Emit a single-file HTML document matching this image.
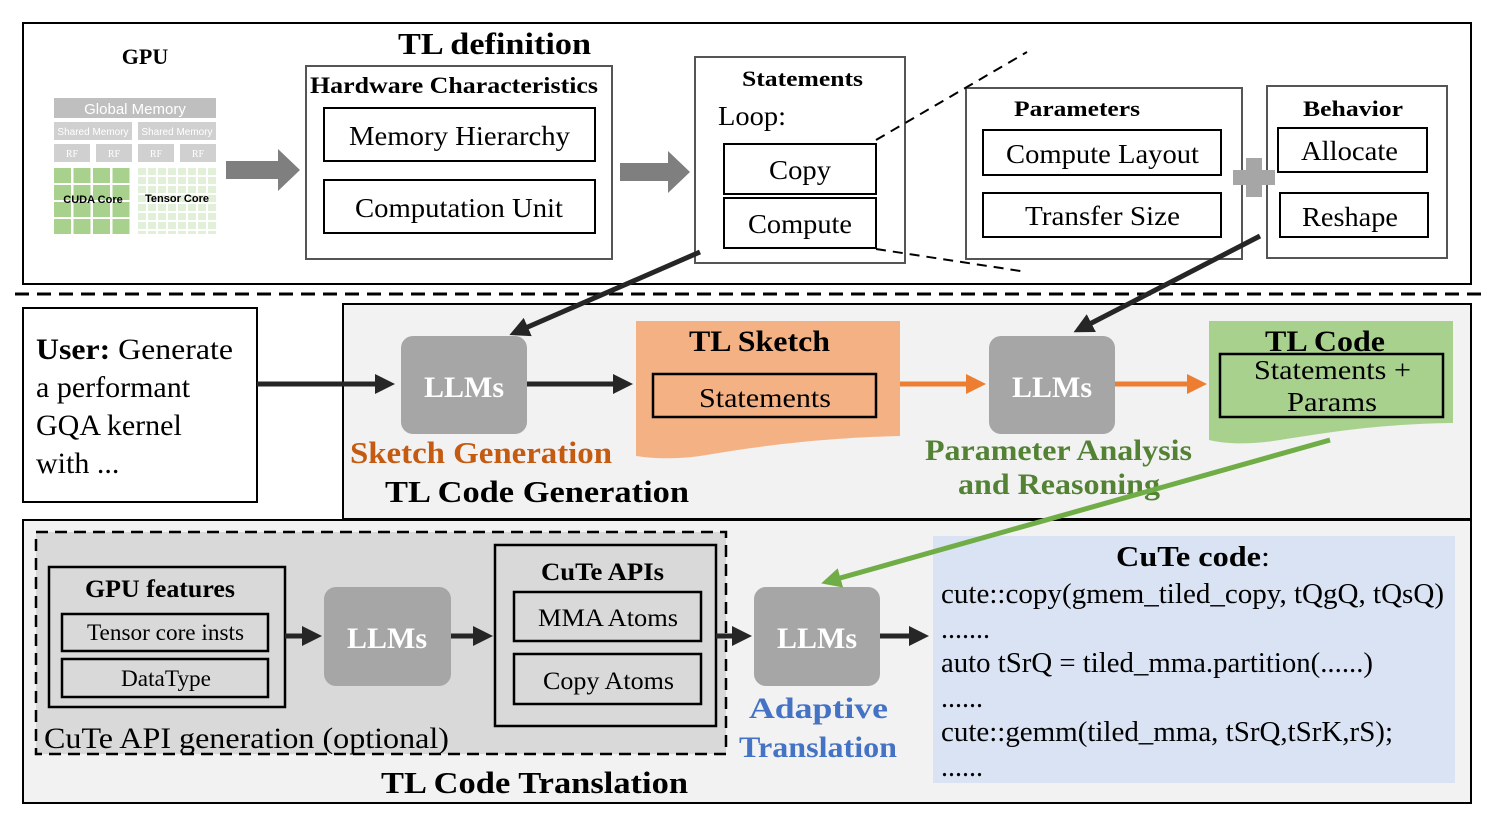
<!DOCTYPE html>
<html><head><style>
body{margin:0;background:#fff}
svg text{font-family:"Liberation Serif",serif}
.s{font-family:"Liberation Sans",sans-serif}
</style></head><body>
<svg width="1495" height="819" viewBox="0 0 1495 819" xmlns="http://www.w3.org/2000/svg">
<defs>
<marker id="ab" markerWidth="4" markerHeight="4" refX="3" refY="2" orient="auto" markerUnits="strokeWidth"><path d="M0,0 L4,2 L0,4 z" fill="#262626"/></marker>
<marker id="ao" markerWidth="4" markerHeight="4" refX="3" refY="2" orient="auto" markerUnits="strokeWidth"><path d="M0,0 L4,2 L0,4 z" fill="#ed7d31"/></marker>
<marker id="ag" markerWidth="4" markerHeight="4" refX="3" refY="2" orient="auto" markerUnits="strokeWidth"><path d="M0,0 L4,2 L0,4 z" fill="#70ad47"/></marker>
<pattern id="cg" width="19.5" height="17" patternUnits="userSpaceOnUse" x="54" y="168"><rect width="17" height="15" fill="#a9d18e"/></pattern>
<pattern id="tg" width="10" height="9" patternUnits="userSpaceOnUse" x="138" y="168"><rect width="8" height="7" fill="#e2efd9"/></pattern>
</defs>
<!-- top -->
<rect x="23" y="23" width="1448" height="261" fill="#fff" stroke="#000" stroke-width="2"/>
<text x="145" y="64" font-size="22" font-weight="bold" text-anchor="middle">GPU</text>
<text x="398" y="54" font-size="31" font-weight="bold" textLength="193" lengthAdjust="spacingAndGlyphs">TL definition</text>
<!-- GPU icon -->
<rect x="54" y="98" width="162" height="20" fill="#bfbfbf"/>
<text x="135" y="114" class="s" font-size="15" fill="#fff" text-anchor="middle">Global Memory</text>
<rect x="54" y="122" width="78" height="18" fill="#d0d0d0"/><rect x="138" y="122" width="78" height="18" fill="#d0d0d0"/>
<text x="93" y="135" class="s" font-size="10" fill="#fff" text-anchor="middle">Shared Memory</text>
<text x="177" y="135" class="s" font-size="10" fill="#fff" text-anchor="middle">Shared Memory</text>
<g fill="#d0d0d0"><rect x="54" y="144" width="36" height="18"/><rect x="96" y="144" width="36" height="18"/><rect x="138" y="144" width="36" height="18"/><rect x="180" y="144" width="36" height="18"/></g>
<g class="s" font-size="10" fill="#fff" text-anchor="middle"><text x="72" y="157">RF</text><text x="114" y="157">RF</text><text x="156" y="157">RF</text><text x="198" y="157">RF</text></g>
<rect x="54" y="168" width="78" height="66" fill="url(#cg)"/>
<rect x="138" y="168" width="78" height="66" fill="url(#tg)"/>
<text x="93" y="203" class="s" font-size="11" font-weight="bold" text-anchor="middle">CUDA Core</text>
<text x="177" y="202" class="s" font-size="11" font-weight="bold" text-anchor="middle">Tensor Core</text>
<!-- gray arrows -->
<path d="M226,161 h52 v-12 l22,21 l-22,21 v-12 h-52z" fill="#7f7f7f"/>
<path d="M620,163 h48 v-12 l22,21 l-22,21 v-12 h-48z" fill="#7f7f7f"/>
<g fill="#fff" stroke="#000" stroke-width="2">
<rect x="306" y="66" width="306" height="193" stroke="#555"/>
<rect x="324" y="108" width="271" height="53"/>
<rect x="324" y="180" width="271" height="53"/>
<rect x="695" y="57" width="210" height="206" stroke="#555"/>
<rect x="724" y="144" width="152" height="50"/>
<rect x="724" y="198" width="152" height="50"/>
<rect x="966" y="88" width="276" height="171" stroke="#555"/>
<rect x="983" y="130" width="238" height="45"/>
<rect x="983" y="193" width="238" height="44"/>
<rect x="1267" y="86" width="180" height="172" stroke="#555"/>
<rect x="1278" y="128" width="149" height="44"/>
<rect x="1280" y="193" width="148" height="44"/>
</g>
<text x="310" y="93" font-size="23" font-weight="bold" textLength="288" lengthAdjust="spacingAndGlyphs">Hardware Characteristics</text>
<text x="349" y="145" font-size="27" textLength="221" lengthAdjust="spacingAndGlyphs">Memory Hierarchy</text>
<text x="355" y="217" font-size="27" textLength="208" lengthAdjust="spacingAndGlyphs">Computation Unit</text>
<text x="742" y="86" font-size="22" font-weight="bold" textLength="121" lengthAdjust="spacingAndGlyphs">Statements</text>
<text x="718" y="125" font-size="27" textLength="68" lengthAdjust="spacingAndGlyphs">Loop:</text>
<text x="769" y="179" font-size="27" textLength="62" lengthAdjust="spacingAndGlyphs">Copy</text>
<text x="748" y="233" font-size="27" textLength="104" lengthAdjust="spacingAndGlyphs">Compute</text>
<text x="1014" y="116" font-size="22" font-weight="bold" textLength="126" lengthAdjust="spacingAndGlyphs">Parameters</text>
<text x="1006" y="163" font-size="27" textLength="193" lengthAdjust="spacingAndGlyphs">Compute Layout</text>
<text x="1025" y="225" font-size="27" textLength="155" lengthAdjust="spacingAndGlyphs">Transfer Size</text>
<text x="1303" y="116" font-size="22" font-weight="bold" textLength="100" lengthAdjust="spacingAndGlyphs">Behavior</text>
<text x="1301" y="160" font-size="27" textLength="97" lengthAdjust="spacingAndGlyphs">Allocate</text>
<text x="1302" y="226" font-size="27" textLength="96" lengthAdjust="spacingAndGlyphs">Reshape</text>
<path d="M1246,158 h16 v12 h13 v15 h-13 v12 h-16 v-12 h-13 v-15 h13z" fill="#a6a6a6"/>
<line x1="876" y1="140" x2="1027" y2="52" stroke="#000" stroke-width="2" stroke-dasharray="10,7"/>
<line x1="876" y1="249" x2="1027" y2="272" stroke="#000" stroke-width="2" stroke-dasharray="10,7"/>
<line x1="15" y1="294" x2="1485" y2="294" stroke="#000" stroke-width="3" stroke-dasharray="14,8"/>
<!-- middle -->
<rect x="343" y="304" width="1128" height="215" fill="#f2f2f2" stroke="#000" stroke-width="2"/>
<rect x="23" y="308" width="234" height="194" fill="#fff" stroke="#000" stroke-width="2"/>
<text font-size="30"><tspan x="36" y="359" textLength="197" lengthAdjust="spacingAndGlyphs"><tspan font-weight="bold">User:</tspan> Generate</tspan><tspan x="36" y="397">a performant</tspan><tspan x="36" y="435">GQA kernel</tspan><tspan x="36" y="473">with ...</tspan></text>
<path d="M636,321 H900 V436 C820,438 760,446 700,456 C670,460 650,458 636,456 Z" fill="#f4b183"/>
<rect x="653" y="374" width="223" height="43" fill="none" stroke="#000" stroke-width="2.5"/>
<text x="689" y="351" font-size="30" font-weight="bold" textLength="141" lengthAdjust="spacingAndGlyphs">TL Sketch</text>
<text x="699" y="407" font-size="27" textLength="132" lengthAdjust="spacingAndGlyphs">Statements</text>
<path d="M1209,321 H1453 V423 C1380,424 1330,432 1280,440 C1250,445 1225,444 1209,440 Z" fill="#a9d18e"/>
<rect x="1220" y="354" width="223" height="63" fill="none" stroke="#000" stroke-width="2.5"/>
<text x="1265" y="351" font-size="30" font-weight="bold" textLength="120" lengthAdjust="spacingAndGlyphs">TL Code</text>
<text x="1254" y="379" font-size="27" textLength="157" lengthAdjust="spacingAndGlyphs">Statements +</text>
<text x="1287" y="411" font-size="27" textLength="90" lengthAdjust="spacingAndGlyphs">Params</text>
<text x="350" y="463" font-size="31" font-weight="bold" fill="#c55a11" textLength="262" lengthAdjust="spacingAndGlyphs">Sketch Generation</text>
<text x="385" y="502" font-size="31" font-weight="bold" textLength="304" lengthAdjust="spacingAndGlyphs">TL Code Generation</text>
<text x="925" y="460" font-size="30" font-weight="bold" fill="#548235" textLength="267" lengthAdjust="spacingAndGlyphs">Parameter Analysis</text>
<text x="958" y="494" font-size="30" font-weight="bold" fill="#548235" textLength="202" lengthAdjust="spacingAndGlyphs">and Reasoning</text>
<!-- bottom -->
<rect x="23" y="520" width="1448" height="283" fill="#f2f2f2" stroke="#000" stroke-width="2"/>
<rect x="36" y="532" width="690" height="222" fill="#d9d9d9" stroke="#000" stroke-width="2.5" stroke-dasharray="12,7"/>
<g fill="none" stroke="#000" stroke-width="2.5">
<rect x="49" y="567" width="236" height="140"/>
<rect x="62" y="614" width="206" height="37"/>
<rect x="62" y="659" width="206" height="38"/>
<rect x="495" y="545" width="221" height="181"/>
<rect x="514" y="592" width="187" height="49"/>
<rect x="514" y="654" width="187" height="50"/>
</g>
<text x="85" y="597" font-size="25" font-weight="bold" textLength="150" lengthAdjust="spacingAndGlyphs">GPU features</text>
<text x="87" y="640" font-size="23" textLength="157" lengthAdjust="spacingAndGlyphs">Tensor core insts</text>
<text x="121" y="686" font-size="23" textLength="90" lengthAdjust="spacingAndGlyphs">DataType</text>
<text x="541" y="580" font-size="25" font-weight="bold" textLength="123" lengthAdjust="spacingAndGlyphs">CuTe APIs</text>
<text x="538" y="626" font-size="25" textLength="140" lengthAdjust="spacingAndGlyphs">MMA Atoms</text>
<text x="543" y="689" font-size="25" textLength="131" lengthAdjust="spacingAndGlyphs">Copy Atoms</text>
<text x="44" y="748" font-size="30" textLength="405" lengthAdjust="spacingAndGlyphs">CuTe API generation (optional)</text>
<text x="381" y="793" font-size="31" font-weight="bold" textLength="307" lengthAdjust="spacingAndGlyphs">TL Code Translation</text>
<text x="749" y="718" font-size="30" font-weight="bold" fill="#4472c4" textLength="139" lengthAdjust="spacingAndGlyphs">Adaptive</text>
<text x="739" y="757" font-size="30" font-weight="bold" fill="#4472c4" textLength="158" lengthAdjust="spacingAndGlyphs">Translation</text>
<rect x="933" y="536" width="522" height="247" fill="#dae3f3"/>
<text x="1116" y="566" font-size="29" textLength="154" lengthAdjust="spacingAndGlyphs"><tspan font-weight="bold">CuTe code</tspan>:</text>
<g font-size="28"><text x="941" y="603" textLength="503" lengthAdjust="spacingAndGlyphs">cute::copy(gmem_tiled_copy, tQgQ, tQsQ)</text><text x="941" y="638">.......</text><text x="941" y="672" textLength="432" lengthAdjust="spacingAndGlyphs">auto tSrQ = tiled_mma.partition(......)</text><text x="941" y="707">......</text><text x="941" y="741" textLength="452" lengthAdjust="spacingAndGlyphs">cute::gemm(tiled_mma, tSrQ,tSrK,rS);</text><text x="941" y="776">......</text></g>
<!-- LLM boxes -->
<g fill="#a6a6a6"><rect x="401" y="336" width="126" height="98" rx="12"/><rect x="989" y="336" width="126" height="98" rx="12"/><rect x="324" y="587" width="127" height="99" rx="12"/><rect x="754" y="587" width="126" height="99" rx="12"/></g>
<g font-size="30" font-weight="bold" fill="#fff" text-anchor="middle"><text x="464" y="397">LLMs</text><text x="1052" y="397">LLMs</text><text x="387" y="648">LLMs</text><text x="817" y="648">LLMs</text></g>
<!-- arrows -->
<g stroke="#262626" stroke-width="5" fill="none" marker-end="url(#ab)">
<line x1="700" y1="252" x2="514" y2="333"/>
<line x1="1260" y1="236" x2="1078" y2="330"/>
<line x1="257" y1="384" x2="390" y2="384"/>
<line x1="527" y1="384" x2="628" y2="384"/>
<line x1="285" y1="636" x2="317" y2="636"/>
<line x1="451" y1="636" x2="488" y2="636"/>
<line x1="716" y1="636" x2="747" y2="636"/>
<line x1="880" y1="636" x2="924" y2="636"/>
</g>
<g stroke="#ed7d31" stroke-width="5" marker-end="url(#ao)"><line x1="900" y1="384" x2="981" y2="384"/><line x1="1115" y1="384" x2="1202" y2="384"/></g>
<line x1="1330" y1="440" x2="826" y2="582" stroke="#70ad47" stroke-width="5" marker-end="url(#ag)"/>
</svg>
</body></html>
